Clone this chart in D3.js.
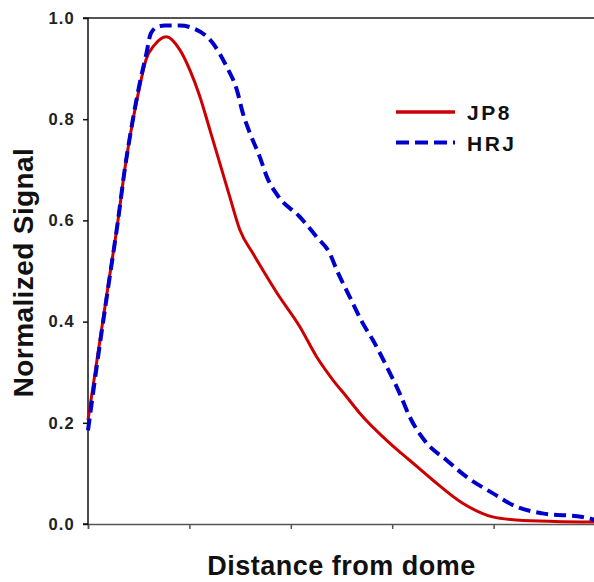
<!DOCTYPE html>
<html>
<head>
<meta charset="utf-8">
<script src="https://cdn.jsdelivr.net/npm/d3@7"></script>
<style>
html,body{margin:0;padding:0;background:#fff;}
svg{display:block;}
text{font-family:"Liberation Sans",Arial,sans-serif;font-weight:bold;}
</style>
</head>
<body>
<script>
// Data (x in axis units 0..5, y normalized signal)
const jp8X = [0,0.099,0.197,0.296,0.362,0.443,0.509,0.571,0.657,0.773,0.906,1.005,1.103,1.202,1.300,1.399,1.498,1.626,1.724,1.862,2.089,2.256,2.414,2.552,2.68,2.975,3.172,3.399,3.695,3.99,4.227,4.6,5.0];
const jp8Y = [0.205,0.338,0.469,0.60,0.70,0.798,0.864,0.917,0.947,0.963,0.937,0.897,0.845,0.779,0.713,0.646,0.581,0.535,0.502,0.457,0.39,0.33,0.285,0.251,0.219,0.160,0.126,0.087,0.041,0.014,0.008,0.005,0.004];
const hrjX = [0,0.099,0.197,0.296,0.362,0.443,0.509,0.571,0.621,0.69,0.759,0.906,1.034,1.232,1.369,1.468,1.527,1.596,1.695,1.764,1.882,2.089,2.256,2.384,2.453,2.581,2.709,2.808,2.946,3.074,3.172,3.34,3.537,3.734,3.99,4.227,4.483,4.877,5.0];
const hrjY = [0.185,0.33,0.465,0.60,0.70,0.80,0.87,0.925,0.97,0.983,0.985,0.985,0.98,0.95,0.903,0.858,0.812,0.773,0.725,0.686,0.646,0.607,0.567,0.535,0.502,0.449,0.397,0.364,0.311,0.258,0.212,0.160,0.126,0.093,0.061,0.034,0.021,0.014,0.008];
const yTicks = [0,0.2,0.4,0.6,0.8,1.0];
const xTicks = [0,1,2,3,4,5];
const seriesNames = ["JP8","HRJ"];

const W = 594, H = 582;
const svg = d3.select("body").append("svg").attr("width",W).attr("height",H);

const x = d3.scaleLinear().domain([0,5]).range([88,595]);
const y = d3.scaleLinear().domain([0,1]).range([524,18]);

// top border
svg.append("line").attr("x1",88).attr("x2",595).attr("y1",y(1)).attr("y2",y(1))
  .attr("stroke","#555").attr("stroke-width",2);

// x axis
const xa = svg.append("g").attr("transform",`translate(0,${y(0)})`)
  .call(d3.axisBottom(x).tickValues(xTicks).tickSize(5).tickFormat(""));
xa.selectAll("path,line").attr("stroke","#555").attr("stroke-width",1.5);

// y axis
const ya = svg.append("g").attr("transform",`translate(${x(0)},0)`)
  .call(d3.axisLeft(y).tickValues(yTicks).tickSize(5).tickPadding(8).tickFormat(d3.format(".1f")));
ya.selectAll("path,line").attr("stroke","#111").attr("stroke-width",1.5);
ya.select(".domain").attr("d",`M-5,${y(1)}H0V${y(0)}H-5`);
ya.selectAll("text").attr("font-size",16.5).attr("letter-spacing","1.2px").attr("fill","#222")
  .attr("font-family","'Liberation Sans',Arial,sans-serif").attr("font-weight","bold");

const line = d3.line().x(d=>x(d[0])).y(d=>y(d[1])).curve(d3.curveMonotoneX);
const jp8 = jp8X.map((v,i)=>[v,jp8Y[i]]);
const hrj = hrjX.map((v,i)=>[v,hrjY[i]]);

svg.append("path").datum(jp8).attr("d",line).attr("fill","none")
  .attr("stroke","#CC0000").attr("stroke-width",3);
svg.append("path").datum(hrj).attr("d",line).attr("fill","none")
  .attr("stroke","#0000CC").attr("stroke-width",4).attr("stroke-dasharray","12,6");

// legend
const lg = svg.append("g");
lg.append("line").attr("x1",396).attr("x2",455).attr("y1",112).attr("y2",112)
  .attr("stroke","#CC0000").attr("stroke-width",3.5);
lg.append("line").attr("x1",396).attr("x2",455).attr("y1",142.5).attr("y2",142.5)
  .attr("stroke","#0000CC").attr("stroke-width",4).attr("stroke-dasharray","13,6");
lg.append("text").attr("x",467).attr("y",120).attr("font-size",21).attr("letter-spacing","2.5px").attr("fill","#111").text(seriesNames[0]);
lg.append("text").attr("x",467).attr("y",150.5).attr("font-size",21).attr("letter-spacing","2.5px").attr("fill","#111").text(seriesNames[1]);

// axis titles
svg.append("text").attr("x",341.5).attr("y",575).attr("text-anchor","middle")
  .attr("font-size",27).attr("letter-spacing","0.5px").attr("fill","#111").text("Distance from dome");
svg.append("text").attr("transform","translate(33,272.5) rotate(-90)").attr("text-anchor","middle")
  .attr("font-size",28).attr("letter-spacing","0.4px").attr("fill","#111").text("Normalized Signal");
</script>
</body>
</html>
